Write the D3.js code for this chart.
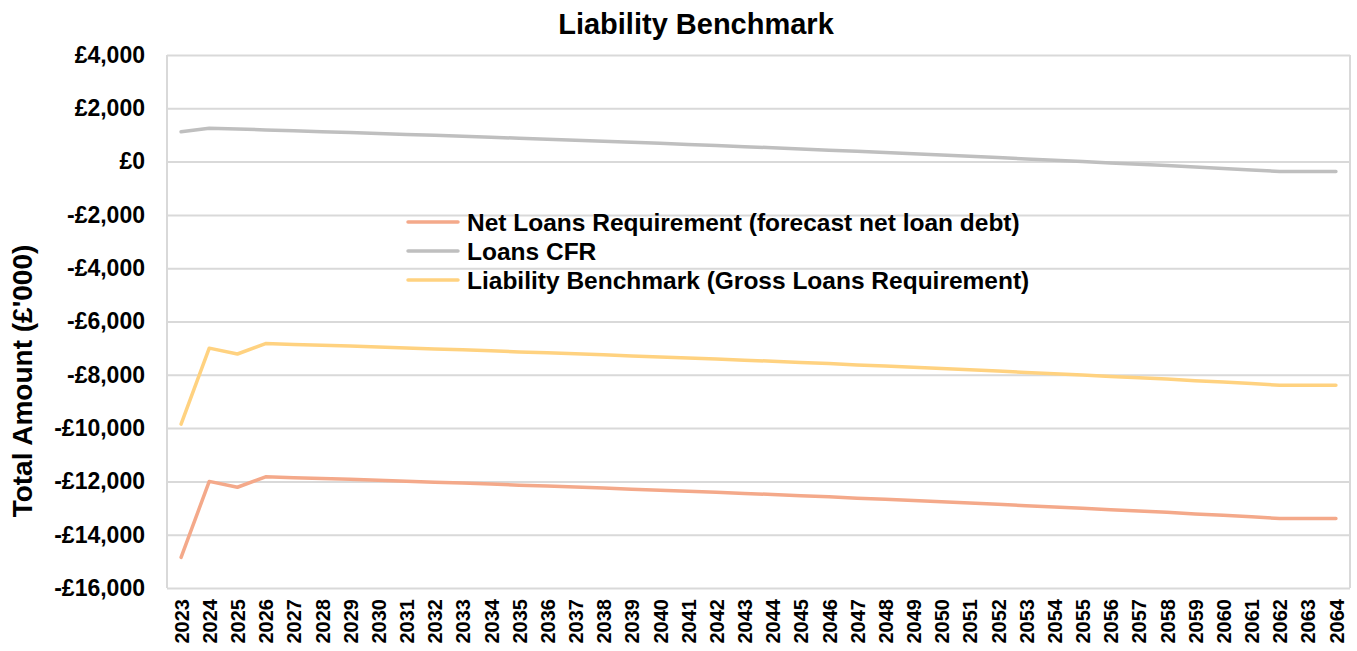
<!DOCTYPE html>
<html>
<head>
<meta charset="utf-8">
<script src="https://cdn.jsdelivr.net/npm/d3@7"></script>
<style>
  html, body { margin: 0; padding: 0; background: #fff; }
  svg { display: block; font-family: "Liberation Sans", Arial, sans-serif; }
</style>
</head>
<body>
<svg id="chart" width="1357" height="651"></svg>
<script>
const years = [2023,2024,2025,2026,2027,2028,2029,2030,2031,2032,2033,2034,2035,2036,2037,2038,2039,2040,2041,2042,2043,2044,2045,2046,2047,2048,2049,2050,2051,2052,2053,2054,2055,2056,2057,2058,2059,2060,2061,2062,2063,2064];

const netLoansRequirement = [-14850,-12000,-12220,-11830,-11860,-11890,-11920,-11960,-11990,-12030,-12060,-12100,-12140,-12170,-12210,-12250,-12290,-12330,-12370,-12410,-12450,-12490,-12540,-12580,-12630,-12670,-12720,-12760,-12810,-12860,-12910,-12960,-13010,-13060,-13110,-13160,-13220,-13270,-13330,-13390,-13390,-13390];

const loansCFR = [1120,1250,1220,1190,1160,1120,1090,1055,1020,985,950,915,875,840,800,765,725,685,645,605,560,520,475,430,385,340,295,250,200,150,100,50,0,-50,-100,-150,-205,-260,-315,-370,-370,-370];

const liabilityBenchmark = [-9850,-7000,-7220,-6830,-6860,-6890,-6920,-6960,-6990,-7030,-7060,-7100,-7140,-7170,-7210,-7250,-7290,-7330,-7370,-7410,-7450,-7490,-7540,-7580,-7630,-7670,-7720,-7760,-7810,-7860,-7910,-7960,-8010,-8060,-8110,-8160,-8220,-8270,-8330,-8390,-8390,-8390];

const yTicks = [4000,2000,0,-2000,-4000,-6000,-8000,-10000,-12000,-14000,-16000];

const seriesNames = ["Net Loans Requirement (forecast net loan debt)", "Loans CFR", "Liability Benchmark (Gross Loans Requirement)"];
const seriesColors = ["#F4A98A", "#BFBFBF", "#FFD280"];
const seriesData = [netLoansRequirement, loansCFR, liabilityBenchmark];

const titleText = "Liability Benchmark";
const yAxisTitle = "Total Amount (£'000)";

const fmt = v => {
  if (v === 0) return "£0";
  const s = d3.format(",")(Math.abs(v));
  return (v < 0 ? "-£" : "£") + s;
};

const svg = d3.select("#chart");
const L = 167, R = 1350, T = 55, B = 588;

const x = d3.scalePoint().domain(years).range([L, R]).padding(0.5);
const y = d3.scaleLinear().domain([-16000, 4000]).range([B, T]);

// gridlines
const yAxis = d3.axisLeft(y).tickValues(yTicks).tickSize(-(R - L)).tickFormat(fmt).tickPadding(22);
const gy = svg.append("g").attr("transform", `translate(${L},0)`).call(yAxis);
gy.select(".domain").remove();
gy.selectAll(".tick line").attr("stroke", "#D9D9D9").attr("stroke-width", 2);
gy.selectAll(".tick text")
  .attr("font-size", 23).attr("font-weight", "bold").attr("fill", "#000");

// plot border sides
svg.append("line").attr("x1", L).attr("x2", L).attr("y1", T).attr("y2", B).attr("stroke", "#D9D9D9").attr("stroke-width", 2);
svg.append("line").attr("x1", R).attr("x2", R).attr("y1", T).attr("y2", B).attr("stroke", "#D9D9D9").attr("stroke-width", 2);

// x axis
const xAxis = d3.axisBottom(x).tickSize(0).tickPadding(0);
const gx = svg.append("g").attr("transform", `translate(0,${B})`).call(xAxis);
gx.select(".domain").remove();
gx.selectAll(".tick text")
  .attr("font-size", 20).attr("font-weight", "bold").attr("fill", "#000")
  .attr("transform", "rotate(-90)")
  .attr("text-anchor", "end")
  .attr("x", -11).attr("y", 0).attr("dy", "0.36em");

// lines
const line = d3.line().x((d, i) => x(years[i])).y(d => y(d));
seriesData.forEach((data, k) => {
  svg.append("path").datum(data)
    .attr("d", line)
    .attr("fill", "none")
    .attr("stroke", seriesColors[k])
    .attr("stroke-width", 3.5)
    .attr("stroke-linejoin", "round")
    .attr("stroke-linecap", "round");
});

// legend
const lg = svg.append("g");
const legendX = 408, legendY0 = 222, legendStep = 29;
seriesNames.forEach((name, k) => {
  const yy = legendY0 + k * legendStep;
  lg.append("line").attr("x1", legendX).attr("x2", legendX + 50).attr("y1", yy).attr("y2", yy)
    .attr("stroke", seriesColors[k]).attr("stroke-width", 3.5).attr("stroke-linecap", "round");
  lg.append("text").attr("x", legendX + 59).attr("y", yy).attr("dy", "0.35em")
    .attr("font-size", 24.5).attr("font-weight", "bold").attr("fill", "#000").text(name);
});

// title
svg.append("text").attr("x", 696).attr("y", 34).attr("text-anchor", "middle")
  .attr("font-size", 29).attr("font-weight", "bold").attr("fill", "#000").text(titleText);

// y axis title
svg.append("text").attr("transform", "translate(32,381) rotate(-90)").attr("text-anchor", "middle")
  .attr("font-size", 28).attr("font-weight", "bold").attr("fill", "#000").text(yAxisTitle);
</script>
</body>
</html>
